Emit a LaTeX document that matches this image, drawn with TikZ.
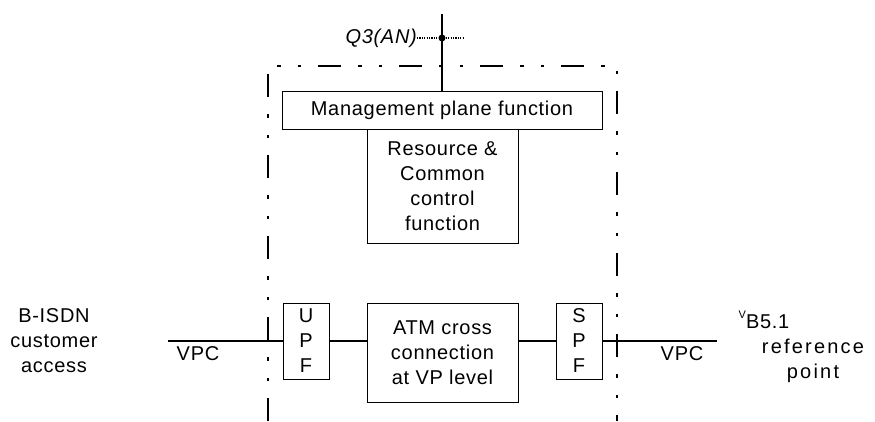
\documentclass[tikz,border=0pt]{standalone}
\usepackage{fontspec}
\setmainfont{Liberation Sans}[LetterSpace=3.5]
\usetikzlibrary{calc}
\tikzset{
  fnbox/.style   = {draw, line width=0.9pt, inner sep=0pt, align=center,
                    font=\fontsize{20}{25}\selectfont},
  vplink/.style  = {line width=2.6pt},
  anbound/.style = {line width=1.1pt,
                    dash pattern=on 23pt off 17pt on 3.5pt off 17pt on 3.5pt off 17pt},
  lab/.style     = {align=center, inner sep=0pt, font=\fontsize{20}{25}\selectfont},
  mgmtlink/.style= {line width=1.2pt, dash pattern=on 1.2pt off 1.2pt},
}
\newfontfamily\widesans{Liberation Sans}[LetterSpace=11]

\begin{document}
\begin{tikzpicture}[x=1pt, y=-1pt]
  \useasboundingbox (0,0) rectangle (875,421);

  % access network boundary
  \draw[anbound] (268,421) -- (268,66) -- (617,66) -- (617,421);

  % function blocks
  \node[fnbox, minimum width=320pt, minimum height=38pt] (mgmt) at (442,110)
       {Management plane function};
  \node[fnbox, minimum width=151pt, minimum height=114pt] (rcc) at (442.5,186)
       {Resource \&\\Common\\control\\function};
  \node[fnbox, minimum width=46pt, minimum height=76pt] (upf) at (306,341)
       {U\\P\\F};
  \node[fnbox, minimum width=151pt, minimum height=99pt] (atm) at (442.5,352.5)
       {ATM cross\\connection\\at VP level};
  \node[fnbox, minimum width=46pt, minimum height=76pt] (spf) at (579,341)
       {S\\P\\F};

  % Q3 management interface
  \coordinate (q3top) at (442,14);
  \coordinate (q3dot) at (442,38);
  \coordinate (q3end) at (464,38);
  \node[lab, font=\fontsize{20}{25}\selectfont\itshape, anchor=east] (q3) at (417,38)
       {Q3(AN)};
  \draw[vplink] (q3top) -- (mgmt.north);
  \draw[mgmtlink] (q3.east) -- (q3end);
  \fill (q3dot) circle (3.5pt);

  % VP connections
  \coordinate (uniend) at (168,341);
  \coordinate (sniend) at (717,341);
  \draw[vplink] (uniend) -- (upf.west);
  \draw[vplink] (upf.east) -- (upf.east -| atm.west);
  \draw[vplink] (spf.west -| atm.east) -- (spf.west);
  \draw[vplink] (spf.east) -- (sniend);

  \node[lab] (vpcl) at (198,354) {VPC};
  \node[lab] (vpcr) at (682,354) {VPC};

  \node[lab] (uni) at (54,341) {B-ISDN\\customer\\access};
  \node[lab] (vb51) at (813,347)
       {\raisebox{10pt}{\fontsize{11}{11}\selectfont V}B5.1\hspace*{98pt}\\
        {\widesans reference}\\{\widesans point}};
\end{tikzpicture}
\end{document}
